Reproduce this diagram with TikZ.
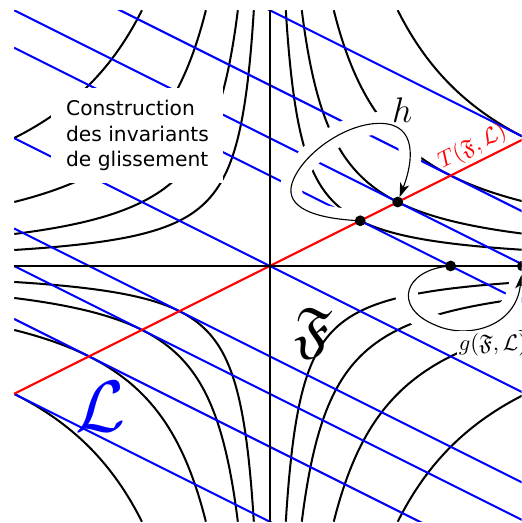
\documentclass[tikz,border=0pt]{standalone}
\usepackage{fontspec}
\usepackage{amssymb}
\newfontfamily\dejavu{DejaVu Sans}
\usetikzlibrary{arrows.meta}
\tikzset{
	courbe/.style = {line width=0.9pt},
	droite/.style = {blue, line width=0.9pt},
	boucle/.style = {line width=0.5pt, -{Stealth[length=2.2mm,width=1.5mm,inset=0.6mm]}},
	halo/.style = {preaction={draw=white, line width=10pt, arrows=-, shorten <=#1, shorten >=6pt}},
	titre/.style = {fill=white, align=left, inner xsep=0.23cm, inner ysep=0.18cm, font=\dejavu\fontsize{9}{11.5}\selectfont},
}
\begin{document}
\begin{tikzpicture}
	\useasboundingbox (-4.22,-4.02) rectangle (3.94,4.16);
	\clip (-4.22,-4.02) rectangle (3.94,4.16);
	\begin{scope}
		\clip (-4,-4) rectangle (4,4);
		\foreach \k in {1,2,4,8} {
			\pgfmathsetmacro{\r}{sqrt(\k)}
			\pgfmathsetmacro{\T}{ln(4/\r)}
			\foreach \sx/\sy in {1/1,-1/1,-1/-1,1/-1}
				\draw[courbe, domain=-\T:\T, samples=60, smooth] plot ({\sx*\r*exp(\x)},{\sy*\r*exp(-\x)});
		}
		\foreach \c in {4,2.828,2,1.414,0,-1.414,-2,-2.828,-4}
			\draw[droite] (-4,{2+\c}) -- (4,{\c-2});
	\end{scope}
	\node[titre] (texte) at (-2.07,2.04) {Construction\\des invariants\\de glissement};
	\coordinate (d1) at (1.414,0.707);
	\coordinate (d2) at (2,1);
	\coordinate (d3) at (2.828,0);
	\coordinate (d4) at (3.95,0);
	\draw[boucle, halo=0pt, shorten >=2.4pt] (d1) .. controls (0.5,0.75) and (0.25,1.0) .. (0.35,1.3)
		.. controls (0.5,1.75) and (1.2,2.25) .. (1.75,2.23)
		.. controls (2.3,2.21) and (2.25,1.65) .. (d2);
	\draw[boucle, halo=9pt, shorten >=4pt] (d3) .. controls (2.1,-0.05) and (1.9,-0.65) .. (2.6,-0.93)
		.. controls (3.1,-1.15) and (3.85,-0.95) .. (d4);
	\node[fill=white, inner sep=1pt] (g) at (3.49,-1.23) {$g(\mathfrak{F},\mathcal{L})$};
	\node (h) at (2.07,2.44) {\scalebox{1.1}{\Large$h$}};
	\draw[red, line width=0.9pt] (-4,-2) -- (4,2) node[pos=0.91, sloped, above, inner sep=1.5pt] (T) {$T(\mathfrak{F},\mathcal{L})$};
	\draw[courbe] (-4,0) -- (4,0);
	\draw[courbe] (0,-4) -- (0,4);
	\foreach \p in {d1,d2,d3,d4}
		\fill (\p) circle (2.4pt);
	\node (F) at (0.68,-1.05) {\scalebox{1.1}{\Huge$\mathfrak{F}$}};
	\node[blue] (L) at (-2.65,-2.2) {\scalebox{1.3}{\Huge$\mathcal{L}$}};
\end{tikzpicture}
\end{document}
